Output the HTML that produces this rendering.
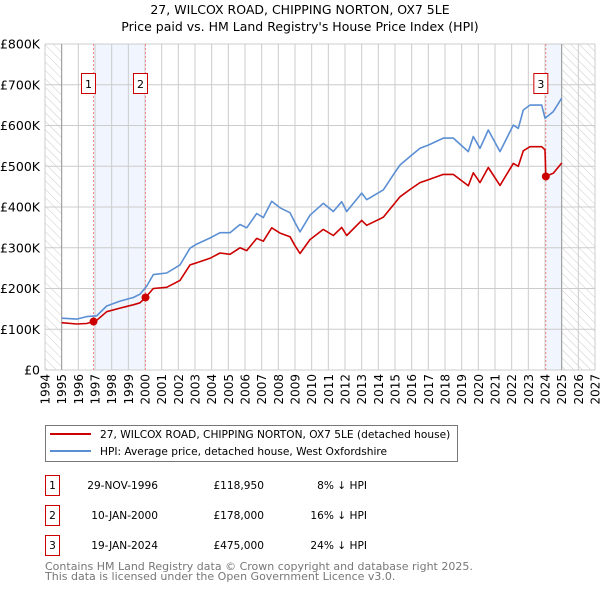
<!DOCTYPE html>
<html><head><meta charset="utf-8">
<style>
body{margin:0;background:#fff;}
svg{display:block;font-family:"DejaVu Sans","Liberation Sans",sans-serif;}
</style></head>
<body>
<svg id="chart" width="600" height="590" viewBox="0 0 600 590" xmlns="http://www.w3.org/2000/svg">
<defs>
<pattern id="hatch" width="6" height="6" patternUnits="userSpaceOnUse" patternTransform="rotate(-45)">
<line x1="0" y1="0" x2="0" y2="6" stroke="#ccc" stroke-width="1"/>
</pattern>
</defs>
<text x="300" y="14" text-anchor="middle" font-size="12.5">27, WILCOX ROAD, CHIPPING NORTON, OX7 5LE</text>
<text x="300" y="31" text-anchor="middle" font-size="12.5">Price paid vs. HM Land Registry's House Price Index (HPI)</text>
<g id="plot"></g>
<g>
<rect x="45.5" y="425.5" width="412" height="36" fill="#fff" stroke="#777"/>
<line x1="50" y1="434" x2="91" y2="434" stroke="#cc0000" stroke-width="2"/>
<text x="100" y="438" font-size="10.6">27, WILCOX ROAD, CHIPPING NORTON, OX7 5LE (detached house)</text>
<line x1="50" y1="451" x2="91" y2="451" stroke="#5b8fd4" stroke-width="2"/>
<text x="100" y="455" font-size="10.6">HPI: Average price, detached house, West Oxfordshire</text>
</g>
<g id="table" font-size="10.6"></g>
<text x="45" y="570" font-size="11" fill="#777">Contains HM Land Registry data © Crown copyright and database right 2025.</text>
<text x="45" y="580" font-size="11" fill="#777">This data is licensed under the Open Government Licence v3.0.</text>
</svg>
<script>
const hpiYears=[1995.0,1995.9,1996.5,1997.1,1997.7,1998.5,1999.3,1999.7,2000.1,2000.5,2001.3,2002.1,2002.7,2003.1,2003.9,2004.5,2005.1,2005.7,2006.1,2006.7,2007.1,2007.6,2008.1,2008.7,2009.0,2009.3,2009.9,2010.7,2011.3,2011.8,2012.1,2013.0,2013.3,2014.3,2014.9,2015.3,2015.9,2016.5,2017.0,2017.9,2018.5,2019.4,2019.7,2020.1,2020.6,2021.3,2022.1,2022.4,2022.7,2023.1,2023.8,2024.0,2024.5,2025.0];
const hpiValues=[127,125,131,133,157,169,178,186,206,234,238,258,299,309,324,337,337,357,349,384,374,414,398,386,362,339,380,409,389,413,389,434,418,442,479,503,524,544,552,569,569,536,573,544,589,536,601,593,638,650,650,618,634,667];
const priceYears=[1995.0,1995.9,1996.5,1996.91,1997.1,1997.7,1998.5,1999.3,1999.7,2000.03,2000.5,2001.3,2002.1,2002.7,2003.1,2003.9,2004.5,2005.1,2005.7,2006.1,2006.7,2007.1,2007.6,2008.1,2008.7,2009.0,2009.3,2009.9,2010.7,2011.3,2011.8,2012.1,2013.0,2013.3,2014.3,2014.9,2015.3,2015.9,2016.5,2017.0,2017.9,2018.5,2019.4,2019.7,2020.1,2020.6,2021.3,2022.1,2022.4,2022.7,2023.1,2023.8,2024.0,2024.05,2024.5,2025.0];
const priceValues=[116,113,114,119,122,143,152,160,165,178,200,203,220,258,263,274,287,284,300,293,323,316,349,336,327,305,286,320,345,330,350,330,367,355,375,405,425,443,460,467,480,480,452,484,460,497,453,507,500,538,548,548,540,475,483,508];
const saleYears=[1996.91,2000.03,2024.05];
const saleValues=[118.95,178,475];
const saleLabels=["1","2","3"];
const saleDates=["29-NOV-1996","10-JAN-2000","19-JAN-2024"];
const salePrices=["£118,950","£178,000","£475,000"];
const saleDiffs=["8% ↓ HPI","16% ↓ HPI","24% ↓ HPI"];
const yTicks=[0,100,200,300,400,500,600,700,800];
const yTickLabels=["£0","£100K","£200K","£300K","£400K","£500K","£600K","£700K","£800K"];
const xTicks=[1994,1995,1996,1997,1998,1999,2000,2001,2002,2003,2004,2005,2006,2007,2008,2009,2010,2011,2012,2013,2014,2015,2016,2017,2018,2019,2020,2021,2022,2023,2024,2025,2026,2027];

const NS="http://www.w3.org/2000/svg";
const L=45,R=595,T=44,B=370,X0=1994,X1=2027,Ymax=800;
const dataStart=1995,dataEnd=2025.0;
const xs=v=>L+(v-X0)/(X1-X0)*(R-L);
const ys=v=>B-v/Ymax*(B-T);
const plot=document.getElementById('plot');
function mk(tag,attrs,parent){const e=document.createElementNS(NS,tag);for(const k in attrs)e.setAttribute(k,attrs[k]);(parent||plot).appendChild(e);return e;}

let e;
e=mk('rect',{x:L,y:T,width:R-L,height:B-T,fill:'#fff'});


e=mk('rect',{x:L,y:T,width:xs(dataStart)-L,height:B-T,fill:'url(#hatch)'});


e=mk('rect',{x:xs(dataEnd),y:T,width:R-xs(dataEnd),height:B-T,fill:'url(#hatch)'});


e=mk('rect',{x:xs(saleYears[0]),y:T,width:xs(saleYears[1])-xs(saleYears[0]),height:B-T,fill:'#eef3fc',opacity:0.8});


e=mk('rect',{x:xs(saleYears[2]),y:T,width:xs(dataEnd)-xs(saleYears[2]),height:B-T,fill:'#eef3fc',opacity:0.8});



xTicks.forEach(t=>{
  e=mk('line',{x1:xs(t),x2:xs(t),y1:T,y2:B,stroke:'#ccc','stroke-width':1});
  
  
  e=mk('text',{x:0,y:0,transform:`translate(${xs(t)+4.5},${B+4}) rotate(-90)`,'text-anchor':'end','font-size':12});
  e.textContent=t;
  
  
});
yTicks.forEach((t,i)=>{
  e=mk('line',{x1:L,x2:R,y1:ys(t),y2:ys(t),stroke:'#ccc','stroke-width':1});
  
  
  e=mk('text',{x:40,y:ys(t)+4.5,'text-anchor':'end','font-size':12.5});
  e.textContent=yTickLabels[i];
  
  
});
e=mk('line',{x1:xs(dataStart),x2:xs(dataStart),y1:T,y2:B,stroke:'#999','stroke-width':1});


e=mk('line',{x1:xs(dataEnd),x2:xs(dataEnd),y1:T,y2:B,stroke:'#999','stroke-width':1});



saleYears.forEach((s,i)=>{
  e=mk('line',{x1:xs(s),x2:xs(s),y1:T,y2:B,stroke:'#ff7070','stroke-width':0.8,'stroke-dasharray':'2,2'});
  
  
});

const pts=(xa,va)=>xa.map((x,i)=>xs(x).toFixed(1)+','+ys(va[i]).toFixed(1)).join(' ');
e=mk('polyline',{points:pts(hpiYears,hpiValues),fill:'none',stroke:'#5b8fd4','stroke-width':1.6,'stroke-linejoin':'round'});


e=mk('polyline',{points:pts(priceYears,priceValues),fill:'none',stroke:'#cc0000','stroke-width':1.6,'stroke-linejoin':'round'});



saleYears.forEach((s,i)=>{
  e=mk('circle',{cx:xs(s),cy:ys(saleValues[i]),r:4,fill:'#cc0000'});
  
  
  const bx=xs(s)-12;
  e=mk('rect',{x:bx,y:73.5,width:14,height:20,fill:'#fff',stroke:'#cc0000','stroke-width':1});
  
  
  e=mk('text',{x:bx+7,y:88,'text-anchor':'middle','font-size':11});
  e.textContent=saleLabels[i];
  
  
});

const table=document.getElementById('table');
saleLabels.forEach((lab,i)=>{
  const y=475+i*30;
  const g=mk('g',{},table);
  
  
  e=mk('rect',{x:45.5,y:y+0.5,width:14,height:20,fill:'#fff',stroke:'#cc0000'},g);
  
  
  e=mk('text',{x:52.5,y:y+14,'text-anchor':'middle'},g);
  e.textContent=lab;
  
  
  e=mk('text',{x:158,y:y+14,'text-anchor':'end'},g);
  e.textContent=saleDates[i];
  
  
  e=mk('text',{x:264,y:y+14,'text-anchor':'end'},g);
  e.textContent=salePrices[i];
  
  
  e=mk('text',{x:367,y:y+14,'text-anchor':'end'},g);
  e.textContent=saleDiffs[i];
  
  
});
</script>
</body></html>
